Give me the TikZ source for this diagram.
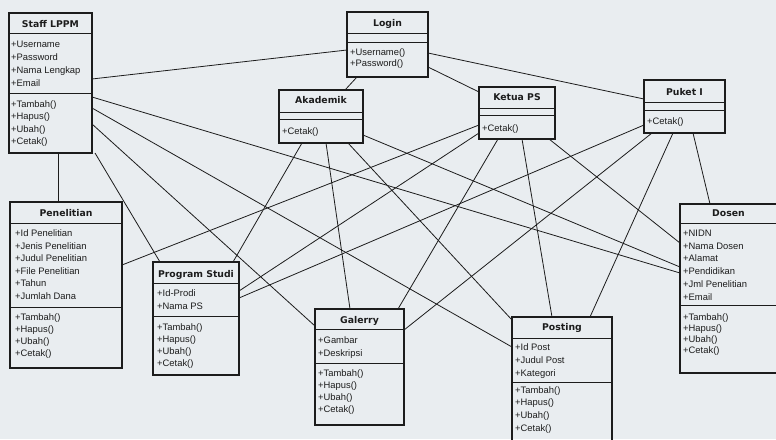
\documentclass[tikz,border=0pt]{standalone}
\usepackage{fontspec}
\setmainfont{Liberation Sans}
\newfontfamily\ttlfont{DejaVu Sans}
\definecolor{bg}{RGB}{233,237,240}
\definecolor{ink}{RGB}{28,28,28}
\tikzset{
  cls/.style={draw=ink, line width=1.1pt, inner sep=0pt, outer sep=0pt, anchor=north west},
  sepline/.style={draw=ink, line width=1pt},
  conn/.style={draw=ink, line width=0.8pt},
  ttl/.style={font=\ttlfont\bfseries\fontsize{9.3}{11}\selectfont, anchor=base, inner sep=0pt, text=ink},
  txt/.style={font=\fontsize{9.4}{11}\selectfont, anchor=base west, inner sep=0pt, text=ink},
}
% name, x1, y1, x2, y2, sep1, sep2, title baseline, title
\newcommand\ucls[9]{%
  \node[cls, minimum width={#4pt-#2pt}, minimum height={#5pt-#3pt}] (#1) at (#2,#3) {};
  \draw[sepline] (#1.west |- 0,#6) -- (#1.east |- 0,#6);
  \draw[sepline] (#1.west |- 0,#7) -- (#1.east |- 0,#7);
  \node[ttl] (#1-title) at ({(#2+#4)/2},#8) {#9};
}
% name, x, first baseline, pitch, list
\newcommand\ulines[5]{%
  \foreach \t [count=\i from 0] in {#5} {\node[txt] (#1-\i) at (#2,{#3+\i*#4}) {\t};}
}
\begin{document}
\begin{tikzpicture}[x=1pt,y=-1pt]
\fill[bg] (0,0) rectangle (776,439);
\useasboundingbox (0,0) rectangle (776,439);
\clip (0,0) rectangle (776,439);

% classes
\ucls{staff}{9}{13}{92}{153}{33}{93}{27.5}{Staff LPPM}
\ulines{staffa}{11}{47.5}{13}{+Username,+Password,+Nama Lengkap,+Email}
\ulines{staffm}{11}{107}{12.6}{+Tambah(),+Hapus(),+Ubah(),+Cetak()}

\ucls{login}{347}{12}{428}{77}{33}{42}{26.5}{Login}
\ulines{loginm}{350}{55}{11.6}{+Username(),+Password()}

\ucls{akademik}{279}{90}{363}{143}{112}{119}{103.5}{Akademik}
\ulines{akademikm}{282}{134}{12}{+Cetak()}

\ucls{ketua}{479}{87}{555}{139}{108}{115}{100.5}{Ketua PS}
\ulines{ketuam}{482}{131}{12}{+Cetak()}

\ucls{puket}{644}{80}{725}{133}{102}{110}{95}{Puket I}
\ulines{puketm}{647}{124.5}{12}{+Cetak()}

\ucls{penelitian}{10}{202}{122}{368}{223}{307}{216}{Penelitian}
\ulines{penelitiana}{15}{236.5}{12.6}{+Id Penelitian,+Jenis Penelitian,+Judul Penelitian,+File Penelitian,+Tahun,+Jumlah Dana}
\ulines{penelitianm}{15}{320}{12.2}{+Tambah(),+Hapus(),+Ubah(),+Cetak()}

\ucls{prodi}{153}{262}{239}{375}{283}{316}{277}{Program Studi}
\ulines{prodia}{157}{296.5}{12.8}{+Id-Prodi,+Nama PS}
\ulines{prodim}{157}{330}{12}{+Tambah(),+Hapus(),+Ubah(),+Cetak()}

\ucls{galerry}{315}{309}{404}{425}{329}{363}{323}{Galerry}
\ulines{galerrya}{318}{343.5}{12.5}{+Gambar,+Deskripsi}
\ulines{galerrym}{318}{376.5}{12}{+Tambah(),+Hapus(),+Ubah(),+Cetak()}

\ucls{posting}{512}{317}{612}{441}{338}{382}{330.5}{Posting}
\ulines{postinga}{515}{350}{13}{+Id Post,+Judul Post,+Kategori}
\ulines{postingm}{515}{393}{12.7}{+Tambah(),+Hapus(),+Ubah(),+Cetak()}

\ucls{dosen}{680}{204}{777}{373}{223}{305}{216.5}{Dosen}
\ulines{dosena}{683}{236.5}{12.7}{+NIDN,+Nama Dosen,+Alamat,+Pendidikan,+Jml Penelitian,+Email}
\ulines{dosenm}{683}{320}{11.3}{+Tambah(),+Hapus(),+Ubah(),+Cetak()}

% connectors
\draw[conn] (staff.east |- 0,79) -- (login.west |- 0,50);
\draw[conn] (staff.east |- 0,97) -- (dosen.west |- 0,273);
\draw[conn] (staff.east |- 0,108) -- (posting.west |- 0,347);
\draw[conn] (staff.east |- 0,124) -- (galerry.west |- 0,326);
\draw[conn] (staff.south -| 95,0) -- (prodi.north -| 160,0);
\draw[conn] (staff.south -| 58,0) -- (penelitian.north -| 58,0);

\draw[conn] (login.south -| 357,0) -- (akademik.north -| 345,0);
\draw[conn] (login.east |- 0,67) -- (ketua.west |- 0,92);
\draw[conn] (login.east |- 0,53) -- (puket.west |- 0,99);

\draw[conn] (akademik.south -| 302,0) -- (prodi.north -| 233,0);
\draw[conn] (akademik.south -| 326,0) -- (galerry.north -| 350,0);
\draw[conn] (akademik.south -| 348,0) -- (posting.west |- 0,320);
\draw[conn] (akademik.east |- 0,135) -- (dosen.west |- 0,267);

\draw[conn] (ketua.west |- 0,125) -- (penelitian.east |- 0,265);
\draw[conn] (ketua.west |- 0,133) -- (prodi.east |- 0,291);
\draw[conn] (ketua.south -| 498,0) -- (galerry.north -| 398,0);
\draw[conn] (ketua.south -| 522,0) -- (posting.north -| 552,0);
\draw[conn] (ketua.south -| 549,0) -- (dosen.west |- 0,243);

\draw[conn] (puket.west |- 0,125) -- (prodi.east |- 0,298);
\draw[conn] (puket.south -| 652,0) -- (galerry.east |- 0,330);
\draw[conn] (puket.south -| 673,0) -- (posting.north -| 590,0);
\draw[conn] (puket.south -| 693,0) -- (dosen.north -| 710,0);
\end{tikzpicture}
\end{document}
